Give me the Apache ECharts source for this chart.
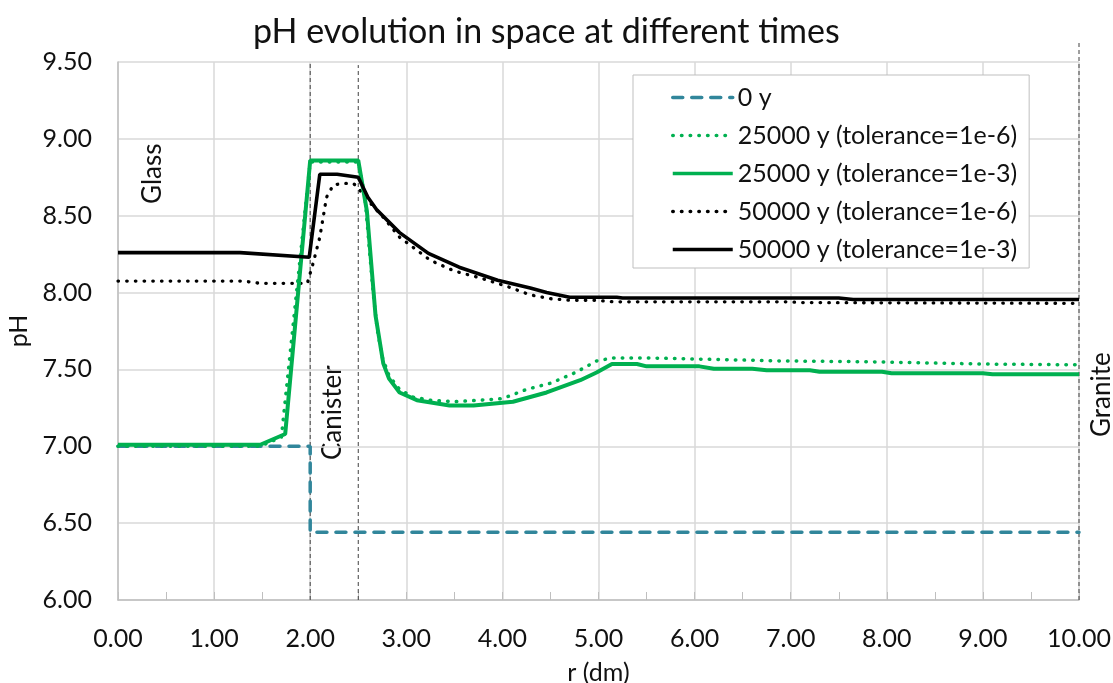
<!DOCTYPE html>
<html>
<head>
<meta charset="utf-8">
<script src="https://cdn.jsdelivr.net/npm/echarts@6/dist/echarts.min.js"></script>
<style>
html,body{margin:0;padding:0;background:#fff;}
#chart{width:1113px;height:683px;}
</style>
</head>
<body>
<div id="chart"></div>
<script>
const titleText = 'pH evolution in space at different times';
const seriesNames = ['0 y', '25000 y (tolerance=1e-6)', '25000 y (tolerance=1e-3)', '50000 y (tolerance=1e-6)', '50000 y (tolerance=1e-3)'];
const xTicks = [0, 1, 2, 3, 4, 5, 6, 7, 8, 9, 10];
const yTicks = [6.0, 6.5, 7.0, 7.5, 8.0, 8.5, 9.0, 9.5];

const ph0y = [[0,7.0],[2.0,7.0],[2.0,6.44],[10,6.44]];
const ph25k_tol6 = [[0,7.00],[0.5,7.00],[1.0,7.00],[1.48,7.00],[1.70,7.06],[2.0,8.85],[2.5,8.85],[2.57,8.62],[2.62,8.25],[2.66,7.97],[2.70,7.75],[2.75,7.58],[2.82,7.46],[2.93,7.37],[3.07,7.32],[3.25,7.30],[3.49,7.29],[3.77,7.30],[4.0,7.31],[4.25,7.37],[4.5,7.41],[4.76,7.48],[4.98,7.555],[5.15,7.575],[5.5,7.575],[6.2,7.565],[6.92,7.555],[7.8,7.55],[9.0,7.535],[10,7.53]];
const ph25k_tol3 = [[0,7.01],[1.48,7.01],[1.74,7.08],[2.0,8.86],[2.5,8.86],[2.59,8.53],[2.68,7.85],[2.76,7.54],[2.82,7.44],[2.93,7.35],[3.11,7.30],[3.45,7.265],[3.70,7.265],[4.11,7.29],[4.46,7.35],[4.81,7.43],[4.98,7.48],[5.14,7.535],[5.40,7.535],[5.5,7.52],[6.05,7.52],[6.2,7.505],[6.6,7.505],[6.75,7.495],[7.2,7.495],[7.3,7.485],[7.95,7.485],[8.05,7.475],[9.0,7.475],[9.1,7.468],[10,7.468]];
const ph50k_tol6 = [[0,8.075],[1.3,8.075],[1.48,8.06],[1.97,8.06],[2.03,8.19],[2.10,8.36],[2.17,8.62],[2.24,8.70],[2.34,8.71],[2.45,8.71],[2.5,8.68],[2.57,8.62],[2.76,8.49],[2.93,8.36],[3.25,8.21],[3.5,8.14],[3.77,8.095],[4.05,8.04],[4.29,7.985],[4.5,7.96],[4.70,7.95],[4.98,7.95],[5.15,7.94],[7.0,7.94],[7.1,7.935],[10,7.93]];
const ph50k_tol3 = [[0,8.26],[1.27,8.26],[1.99,8.23],[2.10,8.77],[2.28,8.77],[2.5,8.75],[2.6,8.62],[2.69,8.54],[2.93,8.39],[3.23,8.255],[3.55,8.165],[3.95,8.08],[4.29,8.03],[4.46,8.00],[4.70,7.97],[5.19,7.97],[5.25,7.965],[7.5,7.965],[7.65,7.955],[10,7.955]];

const boundaryGlassCanister = [[2.0,6.0],[2.0,9.5]];
const boundaryCanister = [[2.5,6.0],[2.5,9.48]];
const boundaryGranite = [[10.0,6.0],[10.0,9.64]];

const FONT = 'Lato';
const chart = echarts.init(document.getElementById('chart'));

function boundary(data){
  return {type:'line', data:data, symbol:'none', silent:true, clip:false, z:1,
    lineStyle:{color:'#404040', width:1, type:[4,3]}, legendHoverLink:false};
}

chart.setOption({
  animation:false,
  title:{text:titleText, left:248, top:10, textStyle:{fontFamily:FONT, fontSize:34, fontWeight:'normal', color:'#111'}},
  grid:{left:118, right:34, top:62, bottom:83, containLabel:false, outerBoundsMode:'none'},
  legend:{
    data:seriesNames, orient:'vertical', left:633, top:75,
    backgroundColor:'#fff', borderColor:'#bfbfbf', borderWidth:1,
    padding:[10,12,6,38], itemGap:13, itemWidth:60, itemHeight:14,
    itemStyle:{opacity:0},
    lineStyle:{width:3.5},
    textStyle:{fontFamily:FONT, fontSize:25, color:'#111', lineHeight:24}
  },
  xAxis:{
    type:'value', min:0, max:10, interval:1,
    name:'r (dm)', nameLocation:'middle', nameGap:60,
    nameTextStyle:{fontFamily:FONT, fontSize:25, color:'#111'},
    axisLine:{show:true, lineStyle:{color:'#bfbfbf', width:1.5}},
    axisTick:{show:true, inside:true, length:8, lineStyle:{color:'#bfbfbf'}},
    minorTick:{show:true, splitNumber:2, length:8, lineStyle:{color:'#bfbfbf'}},
    splitLine:{show:true, lineStyle:{color:'#d9d9d9', width:1.5}},
    axisLabel:{fontFamily:FONT, fontSize:25, color:'#111', margin:26, formatter:v=>v.toFixed(2)}
  },
  yAxis:{
    type:'value', min:6, max:9.5, interval:0.5,
    name:'pH', nameLocation:'middle', nameGap:86, nameRotate:90,
    nameTextStyle:{fontFamily:FONT, fontSize:25, color:'#111'},
    axisLine:{show:true, lineStyle:{color:'#bfbfbf', width:1.5}},
    axisTick:{show:false},
    splitLine:{show:true, lineStyle:{color:'#d9d9d9', width:1.5}},
    axisLabel:{fontFamily:FONT, fontSize:25, color:'#111', margin:26, formatter:v=>v.toFixed(2)}
  },
  graphic:[
    {type:'text', x:140, y:204, rotation:Math.PI/2, style:{text:'Glass', fontFamily:FONT, fontSize:26, fill:'#111'}},
    {type:'text', x:320, y:460, rotation:Math.PI/2, style:{text:'Canister', fontFamily:FONT, fontSize:26, fill:'#111'}},
    {type:'text', x:1089, y:437, rotation:Math.PI/2, style:{text:'Granite', fontFamily:FONT, fontSize:26, fill:'#111'}}
  ],
  series:[
    boundary(boundaryGlassCanister),
    boundary(boundaryCanister),
    boundary(boundaryGranite),
    {name:seriesNames[0], type:'line', data:ph0y, symbol:'none', z:3,
      lineStyle:{color:'#31869B', width:3.5, type:[10,9], cap:'round'}, itemStyle:{color:'#31869B'}},
    {name:seriesNames[1], type:'line', data:ph25k_tol6, symbol:'none', z:4,
      lineStyle:{color:'#00B050', width:3.5, type:[0.5,8.2], cap:'round'}, itemStyle:{color:'#00B050'}},
    {name:seriesNames[2], type:'line', data:ph25k_tol3, symbol:'none', z:5,
      lineStyle:{color:'#00B050', width:4}, itemStyle:{color:'#00B050'}},
    {name:seriesNames[3], type:'line', data:ph50k_tol6, symbol:'none', z:4,
      lineStyle:{color:'#000000', width:3.3, type:[0.5,8.2], cap:'round'}, itemStyle:{color:'#000000'}},
    {name:seriesNames[4], type:'line', data:ph50k_tol3, symbol:'none', z:5,
      lineStyle:{color:'#000000', width:3.6}, itemStyle:{color:'#000000'}}
  ]
});
</script>
</body>
</html>
